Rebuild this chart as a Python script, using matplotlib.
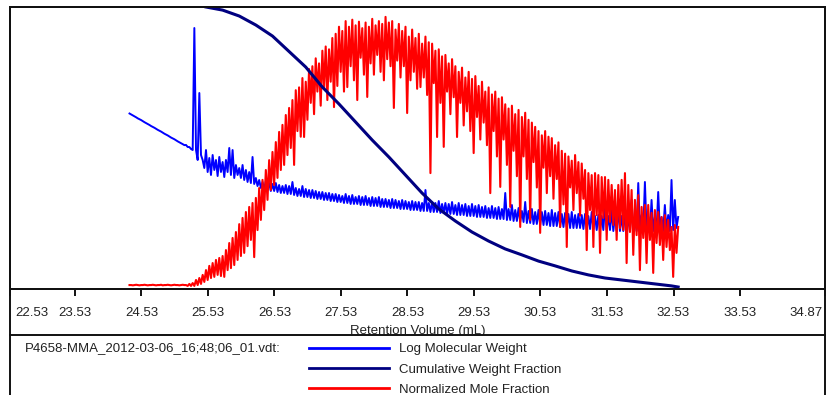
import numpy as np
import matplotlib
matplotlib.use("Agg")
import matplotlib.pyplot as plt
import matplotlib.transforms as mtransforms

plt.rcParams['font.family'] = ['Liberation Sans', 'DejaVu Sans']

# x axis
tick_pos = [22.553, 23.53, 24.53, 25.53, 26.53, 27.53, 28.53, 29.53, 30.53, 31.53, 32.53, 33.53, 34.808]
tick_labels = ["22.53", "23.53", "24.53", "25.53", "26.53", "27.53", "28.53",
               "29.53", "30.53", "31.53", "32.53", "33.53", "34.87"]

# both noisy traces are sampled on one volume grid (mL)
grid_start = 24.35
grid_step = 0.025

log_mw = [
    # 24.35 - 25.175
    5.734, 5.714, 5.694, 5.675, 5.653, 5.630, 5.612, 5.594, 5.571, 5.549, 5.530, 5.512, 5.490, 5.467, 5.449, 5.430,
    5.408, 5.386, 5.367, 5.349, 5.326, 5.304, 5.286, 5.267, 5.245, 5.222, 5.204, 5.186, 5.163, 5.141, 5.122, 5.104,
    5.082, 5.061,
    # 25.20 onwards
    5.064, 5.021, 5.021, 4.979, 4.957, 7.553, 4.957, 4.745, 6.170, 4.851, 4.745, 4.574, 4.957, 4.489, 4.787, 4.426,
    4.851, 4.532, 4.745, 4.404, 4.809, 4.489, 4.702, 4.383, 4.745, 4.489, 5.000, 4.426, 4.957, 4.362, 4.638, 4.426,
    4.574, 4.362, 4.638, 4.319, 4.532, 4.277, 4.489, 4.255, 4.809, 4.234, 4.362, 4.191, 4.319, 4.149, 4.277, 4.128,
    4.298, 4.106, 4.255, 4.085, 4.234, 4.085, 4.255, 4.064, 4.213, 4.043, 4.191, 4.043, 4.213, 4.021, 4.191, 4.021,
    4.277, 4.000, 4.149, 3.979, 4.128, 3.979, 4.191, 3.957, 4.128, 3.957, 4.106, 3.936, 4.106, 3.936, 4.085, 3.915,
    4.064, 3.915, 4.064, 3.894, 4.043, 3.894, 4.043, 3.872, 4.021, 3.872, 4.021, 3.851, 4.000, 3.851, 3.979, 3.830,
    4.021, 3.830, 3.979, 3.809, 4.000, 3.809, 3.957, 3.809, 3.979, 3.787, 3.957, 3.787, 3.979, 3.787, 3.936, 3.766,
    3.957, 3.766, 3.936, 3.766, 3.957, 3.745, 3.915, 3.745, 3.915, 3.745, 3.894, 3.723, 3.915, 3.723, 3.894, 3.723,
    3.872, 3.702, 3.894, 3.702, 3.872, 3.702, 3.851, 3.681, 3.872, 3.681, 3.851, 3.681, 3.851, 3.660, 3.830, 3.660,
    4.106, 3.660, 3.830, 3.638, 3.851, 3.638, 3.830, 3.638, 3.872, 3.617, 3.809, 3.617, 3.830, 3.596, 3.809, 3.596,
    3.851, 3.596, 3.787, 3.574, 3.830, 3.574, 3.787, 3.574, 3.809, 3.553, 3.766, 3.553, 3.809, 3.553, 3.766, 3.532,
    3.787, 3.532, 3.745, 3.532, 3.766, 3.511, 3.723, 3.511, 3.766, 3.511, 3.723, 3.489, 3.745, 3.489, 3.702, 3.489,
    4.043, 3.468, 3.702, 3.468, 3.787, 3.447, 3.681, 3.447, 3.723, 3.426, 3.660, 3.426, 3.851, 3.404, 3.660, 3.404,
    3.702, 3.383, 3.638, 3.383, 3.681, 3.362, 3.638, 3.362, 3.660, 3.362, 3.617, 3.340, 3.681, 3.340, 3.617, 3.340,
    3.638, 3.319, 3.596, 3.319, 3.617, 3.319, 3.596, 3.298, 3.638, 3.298, 3.574, 3.298, 3.596, 3.298, 3.574, 3.277,
    3.596, 3.277, 3.553, 3.277, 3.638, 3.277, 3.553, 3.255, 3.574, 3.255, 3.553, 3.255, 3.787, 3.255, 3.553, 3.255,
    3.681, 3.234, 3.553, 3.234, 3.723, 3.234, 3.553, 3.234, 3.596, 3.234, 3.532, 3.234, 3.894, 3.234, 3.532, 3.234,
    4.255, 3.255, 3.574, 3.234, 4.277, 3.234, 3.532, 3.234, 3.894, 3.234, 3.532, 3.234, 4.064, 3.234, 3.532, 3.234,
    3.787, 3.234, 3.574, 3.234, 4.319, 3.255, 3.894, 3.298, 3.532,
]

mole_frac = [
    # 24.35 - 25.175 baseline
    .014, .014, .013, .014, .015, .014, .013, .014, .014, .015, .014, .013, .014, .014, .015, .014, .013,
    .014, .014, .015, .013, .014, .014, .015, .014, .013, .014, .015, .014, .014, .013, .014, .015, .014,
    # 25.20 onwards
    .014, .011, .018, .011, .021, .011, .032, .014, .039, .018, .050, .025, .067, .032, .082, .039,
    .092, .043, .103, .050, .110, .046, .117, .043, .138, .067, .163, .074, .181, .085, .202, .103,
    .230, .117, .252, .128, .273, .152, .291, .174, .305, .113, .323, .209, .358, .245, .387, .280,
    .422, .316, .457, .351, .486, .369, .521, .394, .557, .422, .582, .440, .617, .475, .642, .500,
    .670, .440, .705, .560, .715, .540, .748, .539, .735, .600, .780, .660, .790, .620, .818, .700,
    .800, .650, .845, .710, .860, .670, .850, .735, .890, .645, .905, .720, .930, .770, .915, .700,
    .950, .716, .930, .790, .955, .740, .935, .670, .948, .820, .925, .760, .945, .681, .930, .800,
    .958, .760, .935, .830, .950, .770, .940, .740, .965, .815, .945, .790, .950, .642, .920, .810,
    .940, .750, .915, .790, .930, .624, .895, .740, .920, .770, .890, .710, .905, .716, .870, .750,
    .895, .688, .875, .411, .870, .730, .845, .539, .850, .660, .825, .504, .830, .700, .800, .620,
    .815, .680, .790, .539, .770, .660, .785, .580, .750, .630, .770, .560, .745, .482, .755, .610,
    .720, .530, .735, .590, .700, .510, .715, .340, .690, .560, .700, .470, .675, .362, .680, .530,
    .655, .440, .640, .291, .650, .490, .620, .400, .635, .220, .610, .470, .625, .390, .600, .245,
    .590, .450, .575, .360, .560, .199, .545, .430, .560, .340, .540, .400, .535, .320, .510, .390,
    .520, .220, .490, .300, .480, .149, .470, .360, .455, .280, .475, .340, .450, .260, .445, .320,
    .422, .138, .411, .280, .404, .149, .411, .262, .404, .128, .397, .252, .397, .174, .387, .238,
    .369, .227, .351, .174, .369, .216, .387, .209, .411, .092, .369, .202, .351, .121, .316, .191,
    .333, .067, .291, .181, .298, .092, .298, .174, .270, .057, .280, .163, .273, .156, .255, .103,
    .262, .149, .245, .138, .220, .043, .227, .128, .220,
]

cum_vol = [25.5, 25.75, 26.0, 26.25, 26.5, 26.75, 27.0, 27.25, 27.5, 27.75, 28.0, 28.25, 28.5, 28.75,
           29.0, 29.25, 29.5, 29.75, 30.0, 30.25, 30.5, 30.75, 31.0, 31.25, 31.5, 31.75, 32.0, 32.25,
           32.5, 32.6]
cum_frac = [1.0, .989, .968, .936, .897, .842, .787, .716, .656, .592, .528, .468, .404, .340,
            .284, .241, .202, .170, .142, .121, .099, .082, .064, .050, .039, .032, .025, .018,
            .011, .007]

file_name = "P4658-MMA_2012-03-06_16;48;06_01.vdt:"
series_names = ["Log Molecular Weight", "Cumulative Weight Fraction", "Normalized Mole Fraction"]
colors = ["#0000FF", "#000080", "#FF0000"]

mw_vol = grid_start + grid_step * np.arange(len(log_mw))
mf_vol = grid_start + grid_step * np.arange(len(mole_frac))

W, H = 827, 395
fig = plt.figure(figsize=(W / 100, H / 100), dpi=100)

def fbox(x0, y0, x1, y1):
    # pixel box (top-left origin) -> figure fraction rect
    return [x0 / W, 1 - y1 / H, (x1 - x0) / W, (y1 - y0) / H]

spine_c = "#111111"
lw_sp = 1.4

# frame around the tick-label strip
frame = fig.add_axes(fbox(10, 289, 825, 335))
frame.set_facecolor("none")
frame.set_xticks([])
frame.set_yticks([])
for s in ["top", "bottom"]:
    frame.spines[s].set_visible(False)
for s in ["left", "right"]:
    frame.spines[s].set_color(spine_c)
    frame.spines[s].set_linewidth(lw_sp)

ax = fig.add_axes(fbox(10, 7, 825, 289))
ax.plot(mw_vol, log_mw, color=colors[0], lw=1.4)
ax.set_ylim(2, 8)
ax.set_xlim(tick_pos[0], tick_pos[-1])

ax_r = ax.twinx()
ax_r.plot(mf_vol, mole_frac, color=colors[2], lw=1.5)
ax_r.set_ylim(0, 1)

ax_c = ax.twinx()
ax_c.plot(cum_vol, cum_frac, color=colors[1], lw=2.2)
ax_c.set_ylim(0, 1)

for a in (ax, ax_r, ax_c):
    a.set_yticks([])
    for s in a.spines.values():
        s.set_color(spine_c)
        s.set_linewidth(lw_sp)

ax.set_xticks(tick_pos)
ax.set_xticklabels(tick_labels)
ax.tick_params(axis="x", direction="out", length=5, width=1.4, color=spine_c,
               pad=8, labelsize=9.5, labelcolor="#222222")
labels = ax.get_xticklabels()
labels[0].set_ha("left")
labels[0].set_transform(labels[0].get_transform() + mtransforms.ScaledTranslation(0.05, 0, fig.dpi_scale_trans))
labels[-1].set_ha("right")
labels[-1].set_transform(labels[-1].get_transform() + mtransforms.ScaledTranslation(-0.02, 0, fig.dpi_scale_trans))
ax.set_xlabel("Retention Volume (mL)", fontsize=9.5, color="#222222", labelpad=4)

# legend strip (its white face hides the lower part of the axis title)
leg_ax = fig.add_axes(fbox(10, 335, 825, 400))
leg_ax.set_facecolor("white")
leg_ax.set_xticks([])
leg_ax.set_yticks([])
leg_ax.spines["bottom"].set_visible(False)
for s in ["left", "top", "right"]:
    leg_ax.spines[s].set_color(spine_c)
    leg_ax.spines[s].set_linewidth(lw_sp)

fig.text(25 / W, 1 - 348 / H, file_name, fontsize=9.5, color="#222222", va="center", ha="left")

handles = [plt.Line2D([], [], color=c, lw=2) for c in colors]
fig.legend(handles, series_names, loc="upper left", bbox_to_anchor=(309 / W, 1 - 343 / H),
           frameon=False, fontsize=9.5, handlelength=6.1, handletextpad=0.75,
           labelspacing=0.62, borderpad=0, borderaxespad=0, labelcolor="#222222")

fig.savefig("out.png", dpi=100)
